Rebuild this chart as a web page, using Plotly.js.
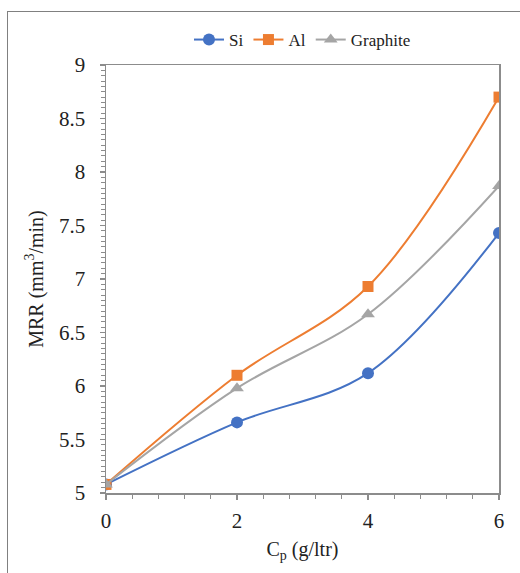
<!DOCTYPE html>
<html>
<head>
<meta charset="utf-8">
<script src="https://cdn.plot.ly/plotly-3.0.1.min.js"></script>
<style>
  html, body { margin: 0; padding: 0; background: #fff; }
  #wrap { position: relative; width: 520px; height: 573px; overflow: hidden; }
  #frame { position: absolute; left: 7px; top: 11px; width: 600px; height: 700px; border: 1.5px solid #808080; box-sizing: border-box; }
  #chart { position: absolute; left: 0; top: 0; width: 520px; height: 573px; }
</style>
</head>
<body>
<div id="wrap">
  <div id="frame"></div>
  <div id="chart"></div>
</div>
<script>
const cp = [0, 2, 4, 6];
const si = [5.08, 5.66, 6.12, 7.43];
const al = [5.08, 6.10, 6.93, 8.70];
const graphite = [5.08, 5.98, 6.67, 7.87];
const seriesNames = ['Si', 'Al', 'Graphite'];

const SERIF = 'Liberation Serif';

const traces = [
  { x: cp, y: si, name: seriesNames[0], mode: 'lines+markers', type: 'scatter',
    line: { color: '#4472C4', width: 2, shape: 'spline', smoothing: 1 },
    marker: { symbol: 'circle', size: 12, color: '#4472C4' } },
  { x: cp, y: al, name: seriesNames[1], mode: 'lines+markers', type: 'scatter',
    line: { color: '#ED7D31', width: 2, shape: 'spline', smoothing: 1 },
    marker: { symbol: 'square', size: 11, color: '#ED7D31' } },
  { x: cp, y: graphite, name: seriesNames[2], mode: 'lines+markers', type: 'scatter',
    line: { color: '#A5A5A5', width: 2, shape: 'spline', smoothing: 1 },
    marker: { symbol: 'triangle-up', size: 12, color: '#A5A5A5' } }
];

const axisCommon = {
  showgrid: false, zeroline: false, showline: true, mirror: true,
  linecolor: '#8c8c8c', linewidth: 1.5,
  ticks: 'outside', tickcolor: '#8c8c8c', tickwidth: 1.2, ticklen: 5,
  tickfont: { family: SERIF, size: 21, color: '#222' }
};

const layout = {
  width: 520, height: 573,
  font: { family: SERIF, color: '#222' },
  paper_bgcolor: 'rgba(0,0,0,0)', plot_bgcolor: 'rgba(0,0,0,0)',
  margin: { l: 106, r: 21, t: 65, b: 80 },
  showlegend: true,
  legend: {
    orientation: 'h', xref: 'paper', x: 0.5, xanchor: 'center',
    yref: 'container', y: 1 - 40 / 573, yanchor: 'middle',
    font: { family: SERIF, size: 17, color: '#222' },
    itemwidth: 30, tracegroupgap: 0
  },
  xaxis: Object.assign({}, axisCommon, {
    range: [0, 6], dtick: 2, tick0: 0,
    minor: { dtick: 0.4, ticks: 'outside', ticklen: 4, tickcolor: '#8c8c8c', tickwidth: 1 },
    ticklabelstandoff: 3,
    title: { text: 'C<sub>p</sub> (g/ltr)', standoff: 10,
      font: { family: SERIF, size: 20, color: '#222' } }
  }),
  yaxis: Object.assign({}, axisCommon, {
    range: [5, 9], dtick: 0.5, tick0: 5,
    minor: { dtick: 0.05, ticks: 'outside', ticklen: 4, tickcolor: '#8c8c8c', tickwidth: 1 },
    ticklabelstandoff: 10,
    title: { text: 'MRR (mm<sup>3</sup>/min)', standoff: 10,
      font: { family: SERIF, size: 20, color: '#222' } }
  })
};

Plotly.newPlot('chart', traces, layout, { displayModeBar: false, staticPlot: true });
</script>
</body>
</html>
